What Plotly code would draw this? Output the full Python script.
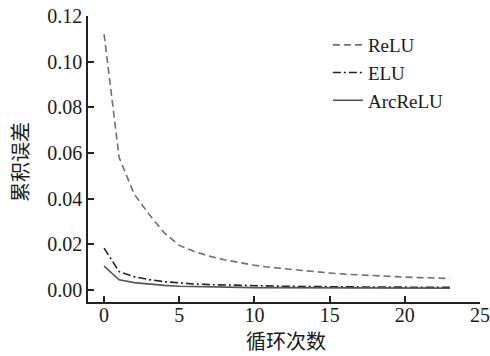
import plotly.graph_objects as go

cycles = list(range(24))
relu = [0.112, 0.058, 0.042, 0.033, 0.025, 0.0195, 0.0168, 0.0148, 0.0132, 0.0119, 0.0108,
        0.0099, 0.0092, 0.0085, 0.0079, 0.0074, 0.0069, 0.0065, 0.0062, 0.0059, 0.0056,
        0.0054, 0.0052, 0.0050]
elu = [0.0183, 0.0080, 0.0058, 0.0045, 0.0036, 0.0030, 0.0026, 0.0023, 0.0021, 0.0019, 0.0018,
       0.0017, 0.0016, 0.0015, 0.0014, 0.0014, 0.0013, 0.0013, 0.0012, 0.0012, 0.0012,
       0.0011, 0.0011, 0.0011]
arcrelu = [0.0104, 0.0044, 0.0032, 0.0025, 0.0020, 0.0016, 0.0014, 0.0013, 0.0012, 0.0011, 0.0010,
           0.0010, 0.0009, 0.0009, 0.0009, 0.0008, 0.0008, 0.0008, 0.0008, 0.0008, 0.0008,
           0.0008, 0.0008, 0.0008]
names = ["ReLU", "ELU", "ArcReLU"]
x_title = "循环次数"
y_title = "累积误差"

fig = go.Figure()
styles = [("#707070", "7px,4px", 1.6), ("#222222", "8px,3px,2px,3px", 1.6), ("#555555", "solid", 1.6)]
for name, vals, (col, dash, w) in zip(names, [relu, elu, arcrelu], styles):
    fig.add_trace(go.Scatter(x=cycles, y=vals, mode="lines", name=name,
                             line=dict(color=col, dash=dash, width=w)))

font_serif = "Times New Roman, Liberation Serif, serif"
cjk = "Noto Sans CJK SC"
fig.update_layout(
    width=490, height=356,
    margin=dict(l=88, r=10, t=16, b=54),
    paper_bgcolor="white", plot_bgcolor="white",
    font=dict(family=font_serif, size=20, color="#1a1a1a"),
    showlegend=True,
    legend=dict(x=0.612, y=0.965, xanchor="left", yanchor="top",
                font=dict(family=font_serif, size=19, color="#1a1a1a"),
                bgcolor="rgba(0,0,0,0)", itemwidth=30, tracegroupgap=0),
    annotations=[
        dict(text=x_title, xref="paper", yref="paper", x=(286 - 88) / 392, y=-(340 - 302) / 286,
             xanchor="center", yanchor="middle", showarrow=False, borderpad=0,
             font=dict(family=cjk, size=20, color="#1a1a1a")),
        dict(text=y_title, xref="paper", yref="paper", x=-(88 - 20) / 392, y=(302 - 162) / 286,
             xanchor="center", yanchor="middle", showarrow=False, textangle=-90, borderpad=0,
             font=dict(family=cjk, size=20, color="#1a1a1a")),
    ],
)
fig.update_xaxes(range=[-1.07, 25], tickvals=[0, 5, 10, 15, 20, 25], automargin=False,
                 tickfont=dict(family=font_serif, size=20), ticklabelstandoff=-6,
                 ticks="inside", ticklen=6, tickwidth=1.5, tickcolor="#222",
                 showline=True, linecolor="#222", linewidth=1.5, showgrid=False, zeroline=False)
fig.update_yaxes(range=[-0.0053, 0.12], tickvals=[0, 0.02, 0.04, 0.06, 0.08, 0.10, 0.12],
                 automargin=False,
                 tickformat=".2f", tickfont=dict(family=font_serif, size=20),
                 ticks="inside", ticklen=6, tickwidth=1.5, tickcolor="#222",
                 showline=True, linecolor="#222", linewidth=1.5, showgrid=False, zeroline=False)

fig.write_html("out.html")
